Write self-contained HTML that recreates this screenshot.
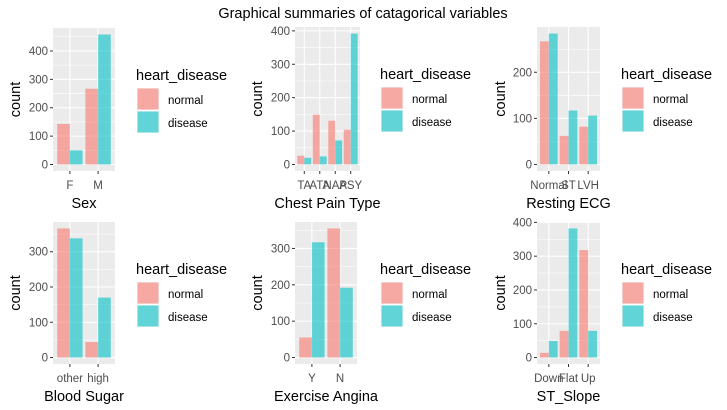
<!DOCTYPE html>
<html><head><meta charset="utf-8"><style>
body{margin:0;background:#fff}
svg{display:block;font-family:"Liberation Sans",Arial,sans-serif}
</style></head><body>
<svg id="chart" width="727" height="410" viewBox="0 0 727 410">
<text x="363" y="18" text-anchor="middle" font-size="14.5" fill="#000">Graphical summaries of catagorical variables</text>
</svg>
<script>
// data
const sexCats = ["F","M"];
const sexNormal = [143, 267];
const sexDisease = [50, 458];
const cpCats = ["TA","ATA","NAP","ASY"];
const cpNormal = [26, 149, 131, 104];
const cpDisease = [20, 24, 72, 392];
const ecgCats = ["Normal","ST","LVH"];
const ecgNormal = [267, 62, 82];
const ecgDisease = [284, 117, 106];
const bsCats = ["other","high"];
const bsNormal = [366, 44];
const bsDisease = [338, 170];
const eaCats = ["Y","N"];
const eaNormal = [55, 355];
const eaDisease = [317, 192];
const slopeCats = ["Down","Flat","Up"];
const slopeNormal = [14, 79, 318];
const slopeDisease = [49, 382, 79];
const yTicks = [0, 100, 200, 300, 400];
const legendLabels = ["normal","disease"];

const panels = [
 {name:"sex", title:"Sex", cats:sexCats, n:sexNormal, d:sexDisease, x0:53, x1:115, y0:28, y1:171, lx:137, cx:15},
 {name:"chest-pain-type", title:"Chest Pain Type", cats:cpCats, n:cpNormal, d:cpDisease, x0:295, x1:360, y0:27, y1:171, lx:381, cx:257},
 {name:"resting-ecg", title:"Resting ECG", cats:ecgCats, n:ecgNormal, d:ecgDisease, x0:537, x1:600, y0:27, y1:171, lx:622, cx:500},
 {name:"blood-sugar", title:"Blood Sugar", cats:bsCats, n:bsNormal, d:bsDisease, x0:53, x1:115, y0:222, y1:364, lx:137, cx:15},
 {name:"exercise-angina", title:"Exercise Angina", cats:eaCats, n:eaNormal, d:eaDisease, x0:295, x1:357, y0:222, y1:364, lx:381, cx:257},
 {name:"st-slope", title:"ST_Slope", cats:slopeCats, n:slopeNormal, d:slopeDisease, x0:537, x1:600, y0:222, y1:364, lx:622, cx:500}
];
const NS="http://www.w3.org/2000/svg";
const svg=document.getElementById("chart");
function mk(tag, attrs, parent, text){
  const e=document.createElementNS(NS,tag);
  for(const k in attrs) e.setAttribute(k,attrs[k]);
  if(text!==undefined) e.textContent=text;
  parent.appendChild(e); return e;
}
panels.forEach(p=>{
  const g=mk("g",{},svg);
  
  
  const nc=p.cats.length;
  const unit=(p.x1-p.x0)/(nc+0.2);
  const xc=i=>p.x0+(i+1-0.4)*unit;
  const mx=Math.max(...p.n,...p.d);
  const lo=-0.05*mx, hi=1.05*mx;
  const ys=v=>p.y1-(v-lo)/(hi-lo)*(p.y1-p.y0);
  const bg=mk("rect",{x:p.x0,y:p.y0,width:p.x1-p.x0,height:p.y1-p.y0,fill:"#EBEBEB"},g);
  
  
  const ticks=yTicks.filter(t=>t<=hi);
  for(let k=0;k<ticks.length;k++){
    const m=ticks[k]+50;
    if(m<=hi) mk("line",{x1:p.x0,x2:p.x1,y1:ys(m),y2:ys(m),stroke:"#fff","stroke-width":0.55},g);
  }
  ticks.forEach(t=>{
    mk("line",{x1:p.x0,x2:p.x1,y1:ys(t),y2:ys(t),stroke:"#fff","stroke-width":1.1},g);
    mk("line",{x1:p.x0-3,x2:p.x0,y1:ys(t),y2:ys(t),stroke:"#333","stroke-width":1},g);
    const tl=mk("text",{x:p.x0-5,y:ys(t)+4,"text-anchor":"end","font-size":"11.5",fill:"#4D4D4D"},g,String(t));
    
    
  });
  p.cats.forEach((c,i)=>{
    const x=xc(i);
    mk("line",{x1:x,x2:x,y1:p.y0,y2:p.y1,stroke:"#fff","stroke-width":1.1},g);
    mk("line",{x1:x,x2:x,y1:p.y1,y2:p.y1+3,stroke:"#333","stroke-width":1},g);
    const tl=mk("text",{x:x,y:p.y1+18,"text-anchor":"middle","font-size":"11.5",fill:"#4D4D4D"},g,c);
    
    
  });
  p.cats.forEach((c,i)=>{
    const x=xc(i), w=0.45*unit;
    const b1=mk("rect",{x:x-w,y:ys(p.n[i]),width:w,height:ys(0)-ys(p.n[i]),fill:"#F8766D","fill-opacity":0.6},g);
    
    
    const b2=mk("rect",{x:x,y:ys(p.d[i]),width:w,height:ys(0)-ys(p.d[i]),fill:"#00BFC4","fill-opacity":0.6},g);
    
    
  });
  const cy=(p.y0+p.y1)/2;
  const yt=mk("text",{x:p.cx,y:cy,"text-anchor":"middle","font-size":"14.5",fill:"#000",transform:`rotate(-90 ${p.cx} ${cy}) translate(0 5)`},g,"count");
  
  
  const xt=mk("text",{x:(p.x0+p.x1)/2,y:p.y1+37,"text-anchor":"middle","font-size":"14.5",fill:"#000"},g,p.title);
  
  
  const lg=mk("g",{},g);
  
  
  const ly=p.y0+52;
  mk("text",{x:p.lx-1,y:ly,"font-size":"14.5",fill:"#000"},lg,"heart_disease");
  const cols=["#F8766D","#00BFC4"];
  legendLabels.forEach((l,k)=>{
    const ky=ly+8+k*23;
    const e=mk("g",{},lg);
    
    
    mk("rect",{x:p.lx,y:ky,width:22,height:22,fill:"#F2F2F2"},e);
    mk("rect",{x:p.lx+0.5,y:ky+0.5,width:21,height:21,fill:cols[k],"fill-opacity":0.6},e);
    mk("text",{x:p.lx+31,y:ky+16,"font-size":"11.5",fill:"#000"},e,l);
  });
});
</script>
</body></html>
